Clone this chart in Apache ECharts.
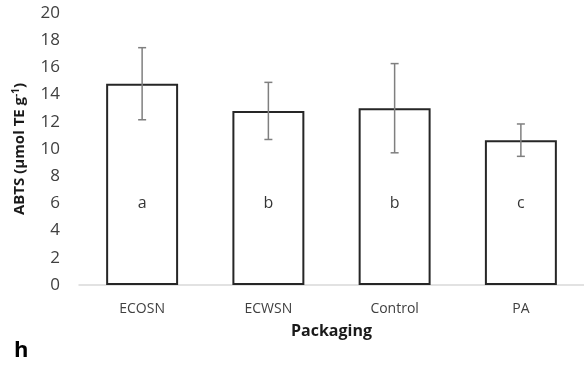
<!DOCTYPE html>
<html>
<head>
<meta charset="utf-8">
<script src="https://cdn.jsdelivr.net/npm/echarts@6/dist/echarts.min.js"></script>
<style>
  html, body { margin: 0; padding: 0; background: #fff; }
  #chart { width: 584px; height: 366px; }
</style>
</head>
<body>
<div id="chart"></div>
<script>
// Packaging treatments and ABTS antioxidant capacity (mean ± SD)
const categories = ['ECOSN', 'ECWSN', 'Control', 'PA'];
const means = [14.8, 12.8, 13.0, 10.65];
const errors = [2.65, 2.1, 3.28, 1.19];
const groupLetters = ['a', 'b', 'b', 'c'];
const letterLevel = 6;
const yTicks = { min: 0, max: 20, interval: 2 };

const FONT = '"Open Sans", "Noto Sans", sans-serif';

const chart = echarts.init(document.getElementById('chart'), null, { renderer: 'canvas' });

const errorData = categories.map((c, i) => [i, means[i] - errors[i], means[i] + errors[i]]);
const letterData = categories.map((c, i) => [i, letterLevel, groupLetters[i]]);

chart.setOption({
  animation: false,
  backgroundColor: '#ffffff',
  grid: { left: 79, top: 13, width: 518, height: 272, containLabel: false },
  xAxis: {
    type: 'category',
    data: categories,
    axisLine: { show: true, lineStyle: { color: '#d9d9d9', width: 1.5 } },
    axisTick: { show: false },
    axisLabel: { color: '#404040', fontFamily: FONT, fontSize: 14, margin: 17 },
    name: 'Packaging',
    nameLocation: 'middle',
    nameGap: 38,
    nameTextStyle: { color: '#1a1a1a', fontFamily: FONT, fontSize: 16, fontWeight: 'bold' }
  },
  yAxis: {
    type: 'value',
    min: yTicks.min,
    max: yTicks.max,
    interval: yTicks.interval,
    axisLine: { show: false },
    axisTick: { show: false },
    splitLine: { show: false },
    axisLabel: { color: '#404040', fontFamily: FONT, fontSize: 17, margin: 19 },
    name: '{n|ABTS (µmol TE g}{sup|-1}{n|)}',
    nameLocation: 'middle',
    nameGap: 50,
    nameRotate: 90,
    nameTextStyle: {
      rich: {
        n: { fontFamily: FONT, fontSize: 15, fontWeight: 'bold', color: '#1a1a1a' },
        sup: { fontFamily: FONT, fontSize: 10, fontWeight: 'bold', color: '#1a1a1a', verticalAlign: 'top', padding: [0, 0, 8, 0] }
      }
    }
  },
  series: [
    {
      type: 'bar',
      data: means,
      barCategoryGap: '43%',
      itemStyle: { color: '#ffffff', borderColor: '#262626', borderWidth: 2 }
    },
    {
      type: 'custom',
      data: errorData,
      z: 5,
      renderItem: function (params, api) {
        const x = api.value(0);
        const lo = api.coord([x, api.value(1)]);
        const hi = api.coord([x, api.value(2)]);
        const cap = 4;
        const style = { stroke: '#7f7f7f', lineWidth: 1.5 };
        return {
          type: 'group',
          children: [
            { type: 'line', shape: { x1: hi[0], y1: hi[1], x2: lo[0], y2: lo[1] }, style: style },
            { type: 'line', shape: { x1: hi[0] - cap, y1: hi[1], x2: hi[0] + cap, y2: hi[1] }, style: style },
            { type: 'line', shape: { x1: lo[0] - cap, y1: lo[1], x2: lo[0] + cap, y2: lo[1] }, style: style }
          ]
        };
      }
    },
    {
      type: 'scatter',
      data: letterData,
      symbolSize: 0,
      z: 6,
      label: {
        show: true,
        position: 'inside',
        formatter: p => p.data[2],
        color: '#000000',
        fontFamily: FONT,
        fontSize: 16
      }
    }
  ],
  graphic: [
    {
      type: 'text',
      left: 14,
      top: 340,
      style: { text: 'h', fontFamily: FONT, fontSize: 22, fontWeight: 'bold', fill: '#000000' }
    }
  ]
});
</script>
</body>
</html>
